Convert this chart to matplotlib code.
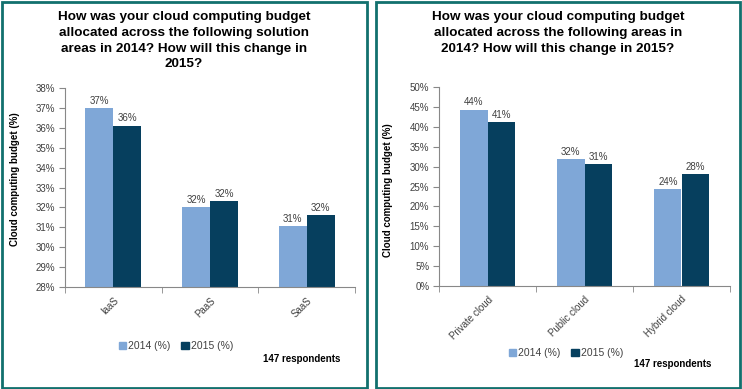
import numpy as np
import matplotlib.pyplot as plt
from matplotlib.patches import Rectangle, Patch
from matplotlib.ticker import FuncFormatter

# data
left_cats = ["IaaS", "PaaS", "SaaS"]
left_2014 = [37.0, 32.0, 31.05]
left_2015 = [36.1, 32.3, 31.6]
left_lab_2014 = ["37%", "32%", "31%"]
left_lab_2015 = ["36%", "32%", "32%"]

right_cats = ["Private cloud", "Public cloud", "Hybrid cloud"]
right_2014 = [44.3, 31.8, 24.4]
right_2015 = [41.2, 30.6, 28.1]
right_lab_2014 = ["44%", "32%", "24%"]
right_lab_2015 = ["41%", "31%", "28%"]

series_names = ["2014 (%)", "2015 (%)"]

c14 = "#7FA7D7"
c15 = "#063F5E"
teal = "#12706E"
txt = "#404040"
W, H = 742, 389

plt.rcParams["font.family"] = ["Liberation Sans", "DejaVu Sans"]

fig = plt.figure(figsize=(W / 100, H / 100), dpi=100)


def px(x0, y0, x1, y1):
    # pixel box (top-left origin) -> figure fraction rect
    return [x0 / W, 1 - y1 / H, (x1 - x0) / W, (y1 - y0) / H]


# panel borders
for x0, x1 in [(1.5, 367), (376, 740.5)]:
    fig.patches.append(Rectangle((x0 / W, 1.5 / H), (x1 - x0) / W, (H - 3) / H,
                                 transform=fig.transFigure, fill=False,
                                 edgecolor=teal, linewidth=2))


def panel(rect, cats, v14, v15, l14, l15, ylim, ystep, width):
    ax = fig.add_axes(rect)
    x = np.arange(len(cats))
    b1 = ax.bar(x - width / 2, v14, width, color=c14, zorder=2)
    b2 = ax.bar(x + width / 2, v15, width, color=c15, zorder=2)
    off = (ylim[1] - ylim[0]) * 0.012
    for bars, labs in [(b1, l14), (b2, l15)]:
        for b, lab in zip(bars, labs):
            ax.text(b.get_x() + b.get_width() / 2, b.get_height() + off, lab,
                    ha="center", va="bottom", fontsize=7, color=txt)
    ax.set_xlim(-0.5, len(cats) - 0.5)
    ax.set_ylim(*ylim)
    ax.set_yticks(np.arange(ylim[0], ylim[1] + 0.01, ystep))
    ax.yaxis.set_major_formatter(FuncFormatter(lambda v, p: f"{v:.0f}%"))
    ax.set_xticks(x)
    ax.set_xticklabels(cats, rotation=45, ha="right", rotation_mode="anchor",
                       fontsize=7, color=txt)
    ax.set_xticks(np.arange(-0.5, len(cats)), minor=True)
    ax.tick_params(axis="x", which="major", length=0, pad=6)
    ax.tick_params(axis="x", which="minor", length=4, color="#888888")
    ax.tick_params(axis="y", length=4, color="#888888", labelsize=7,
                   labelcolor=txt, pad=3)
    for s in ["top", "right"]:
        ax.spines[s].set_visible(False)
    for s in ["left", "bottom"]:
        ax.spines[s].set_color("#888888")
        ax.spines[s].set_linewidth(0.8)
    ax.set_ylabel("Cloud computing budget (%)", fontsize=7, fontweight="bold",
                  color="black")
    return ax


axl = panel(px(65, 88, 355, 287), left_cats, left_2014, left_2015,
            left_lab_2014, left_lab_2015, (28, 38), 1, 0.29)
axl.yaxis.set_label_coords(-0.155, 0.54)

axr = panel(px(439, 87, 730, 286), right_cats, right_2014, right_2015,
            right_lab_2014, right_lab_2015, (0, 50), 5, 0.28)
axr.yaxis.set_label_coords(-0.158, 0.48)

fig.text(184 / W, 1 - 11 / H,
         "How was your cloud computing budget\nallocated across the following solution\n"
         "areas in 2014? How will this change in\n2015?",
         ha="center", va="top", fontsize=9.7, fontweight="bold", linespacing=1.42)
fig.text(558 / W, 1 - 11 / H,
         "How was your cloud computing budget\nallocated across the following areas in\n"
         "2014? How will this change in 2015?",
         ha="center", va="top", fontsize=9.7, fontweight="bold", linespacing=1.42)

handles = [Patch(color=c14), Patch(color=c15)]
for cx, cy in [(176, 346), (566, 353)]:
    fig.legend(handles, series_names, loc="center", bbox_to_anchor=(cx / W, 1 - cy / H),
               ncol=2, frameon=False, fontsize=7.5, handlelength=0.7, handleheight=0.7,
               handletextpad=0.2, columnspacing=1.0, labelcolor=txt)

fig.text(302 / W, 1 - 359 / H, "147 respondents", ha="center", va="center",
         fontsize=7, fontweight="bold")
fig.text(673 / W, 1 - 364 / H, "147 respondents", ha="center", va="center",
         fontsize=7, fontweight="bold")

fig.savefig("out.png", dpi=100)
